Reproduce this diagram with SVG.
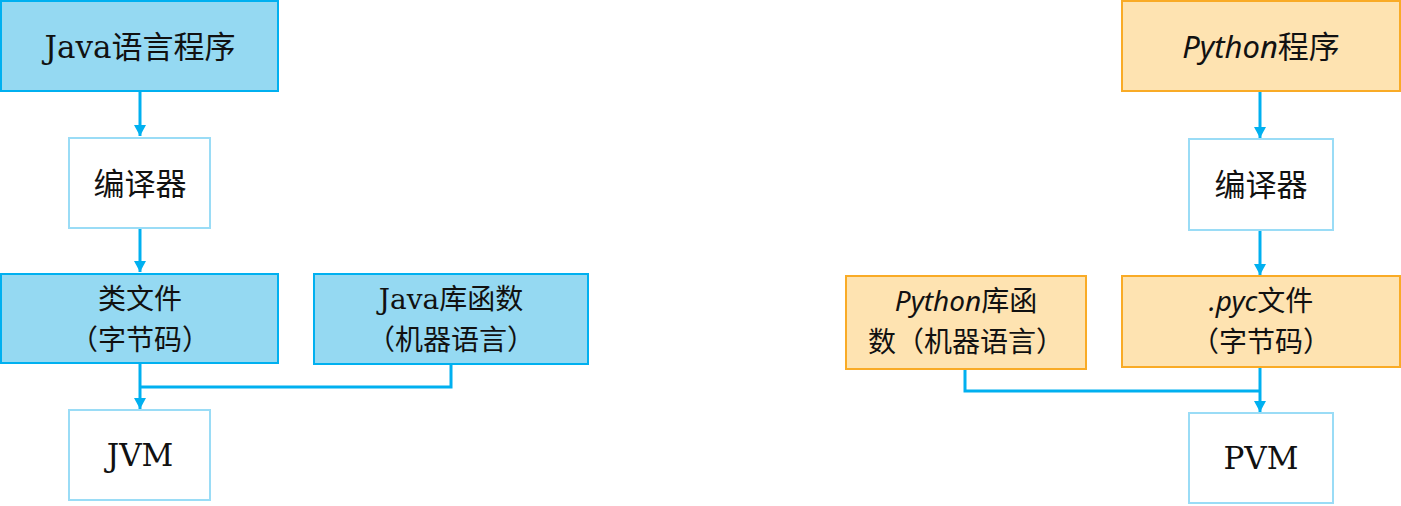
<svg xmlns="http://www.w3.org/2000/svg" width="1401" height="506" viewBox="0 0 1401 506">
<defs>
<style>
.blue{fill:#95d9f2;stroke:#00b0f0;stroke-width:2}
.orange{fill:#fee3b1;stroke:#f9ab26;stroke-width:2}
.plain{fill:#ffffff;stroke:#9adcf6;stroke-width:2}
.cn{font-family:"Noto Sans CJK SC","Noto Sans",sans-serif;font-size:31px;fill:#111;text-anchor:middle}
.two{font-size:28px}
.lat{font-family:"DejaVu Serif","Liberation Serif",serif}
.py{font-family:"Noto Sans","DejaVu Sans",sans-serif;font-style:italic}
.conn{fill:none;stroke:#00b0f0;stroke-width:3}
</style>
<marker id="ah" markerWidth="12" markerHeight="12" viewBox="0 0 12 12" refX="11" refY="6" orient="auto" markerUnits="userSpaceOnUse">
<path d="M0,0 L11,6 L0,12 Z" fill="#00b0f0"/>
</marker>
</defs>
<g id="connectors">
<path class="conn" d="M140,92 V136" marker-end="url(#ah)"/>
<path class="conn" d="M140,229 V272" marker-end="url(#ah)"/>
<path class="conn" d="M140,364 V409" marker-end="url(#ah)"/>
<path class="conn" d="M451,365 V387 H140"/>
<path class="conn" d="M1260,92 V138" marker-end="url(#ah)"/>
<path class="conn" d="M1260,231 V275" marker-end="url(#ah)"/>
<path class="conn" d="M1260,368 V412" marker-end="url(#ah)"/>
<path class="conn" d="M965,370 V391 H1260"/>
</g>
<g id="java-program">
<rect class="blue" x="1" y="1" width="277" height="90"/>
<text class="cn" x="140" y="58"><tspan class="lat">Java</tspan>语言程序</text>
</g>
<g id="java-compiler">
<rect class="plain" x="69" y="138" width="141" height="90"/>
<text class="cn" x="140" y="195">编译器</text>
</g>
<g id="class-file">
<rect class="blue" x="1" y="274" width="277" height="89"/>
<text class="cn two" x="140" y="309">类文件</text>
<text class="cn two" x="140" y="350">（字节码）</text>
</g>
<g id="java-lib">
<rect class="blue" x="314" y="274" width="274" height="90"/>
<text class="cn two" x="451" y="309"><tspan class="lat">Java</tspan>库函数</text>
<text class="cn two" x="451" y="350">（机器语言）</text>
</g>
<g id="jvm">
<rect class="plain" x="69" y="410" width="141" height="90"/>
<text class="cn lat" x="140" y="466">JVM</text>
</g>
<g id="python-program">
<rect class="orange" x="1122" y="1" width="278" height="90"/>
<text class="cn" x="1261" y="58"><tspan class="py">Python</tspan>程序</text>
</g>
<g id="python-compiler">
<rect class="plain" x="1189" y="139" width="144" height="91"/>
<text class="cn" x="1261" y="196">编译器</text>
</g>
<g id="pyc-file">
<rect class="orange" x="1122" y="276" width="278" height="91"/>
<text class="cn two" x="1261" y="311"><tspan class="py">.pyc</tspan>文件</text>
<text class="cn two" x="1261" y="352">（字节码）</text>
</g>
<g id="python-lib">
<rect class="orange" x="846" y="276" width="240" height="93"/>
<text class="cn two" x="966" y="311"><tspan class="py">Python</tspan>库函</text>
<text class="cn two" x="966" y="352">数（机器语言）</text>
</g>
<g id="pvm">
<rect class="plain" x="1189" y="413" width="144" height="90"/>
<text class="cn lat" x="1261" y="469">PVM</text>
</g>
</svg>
